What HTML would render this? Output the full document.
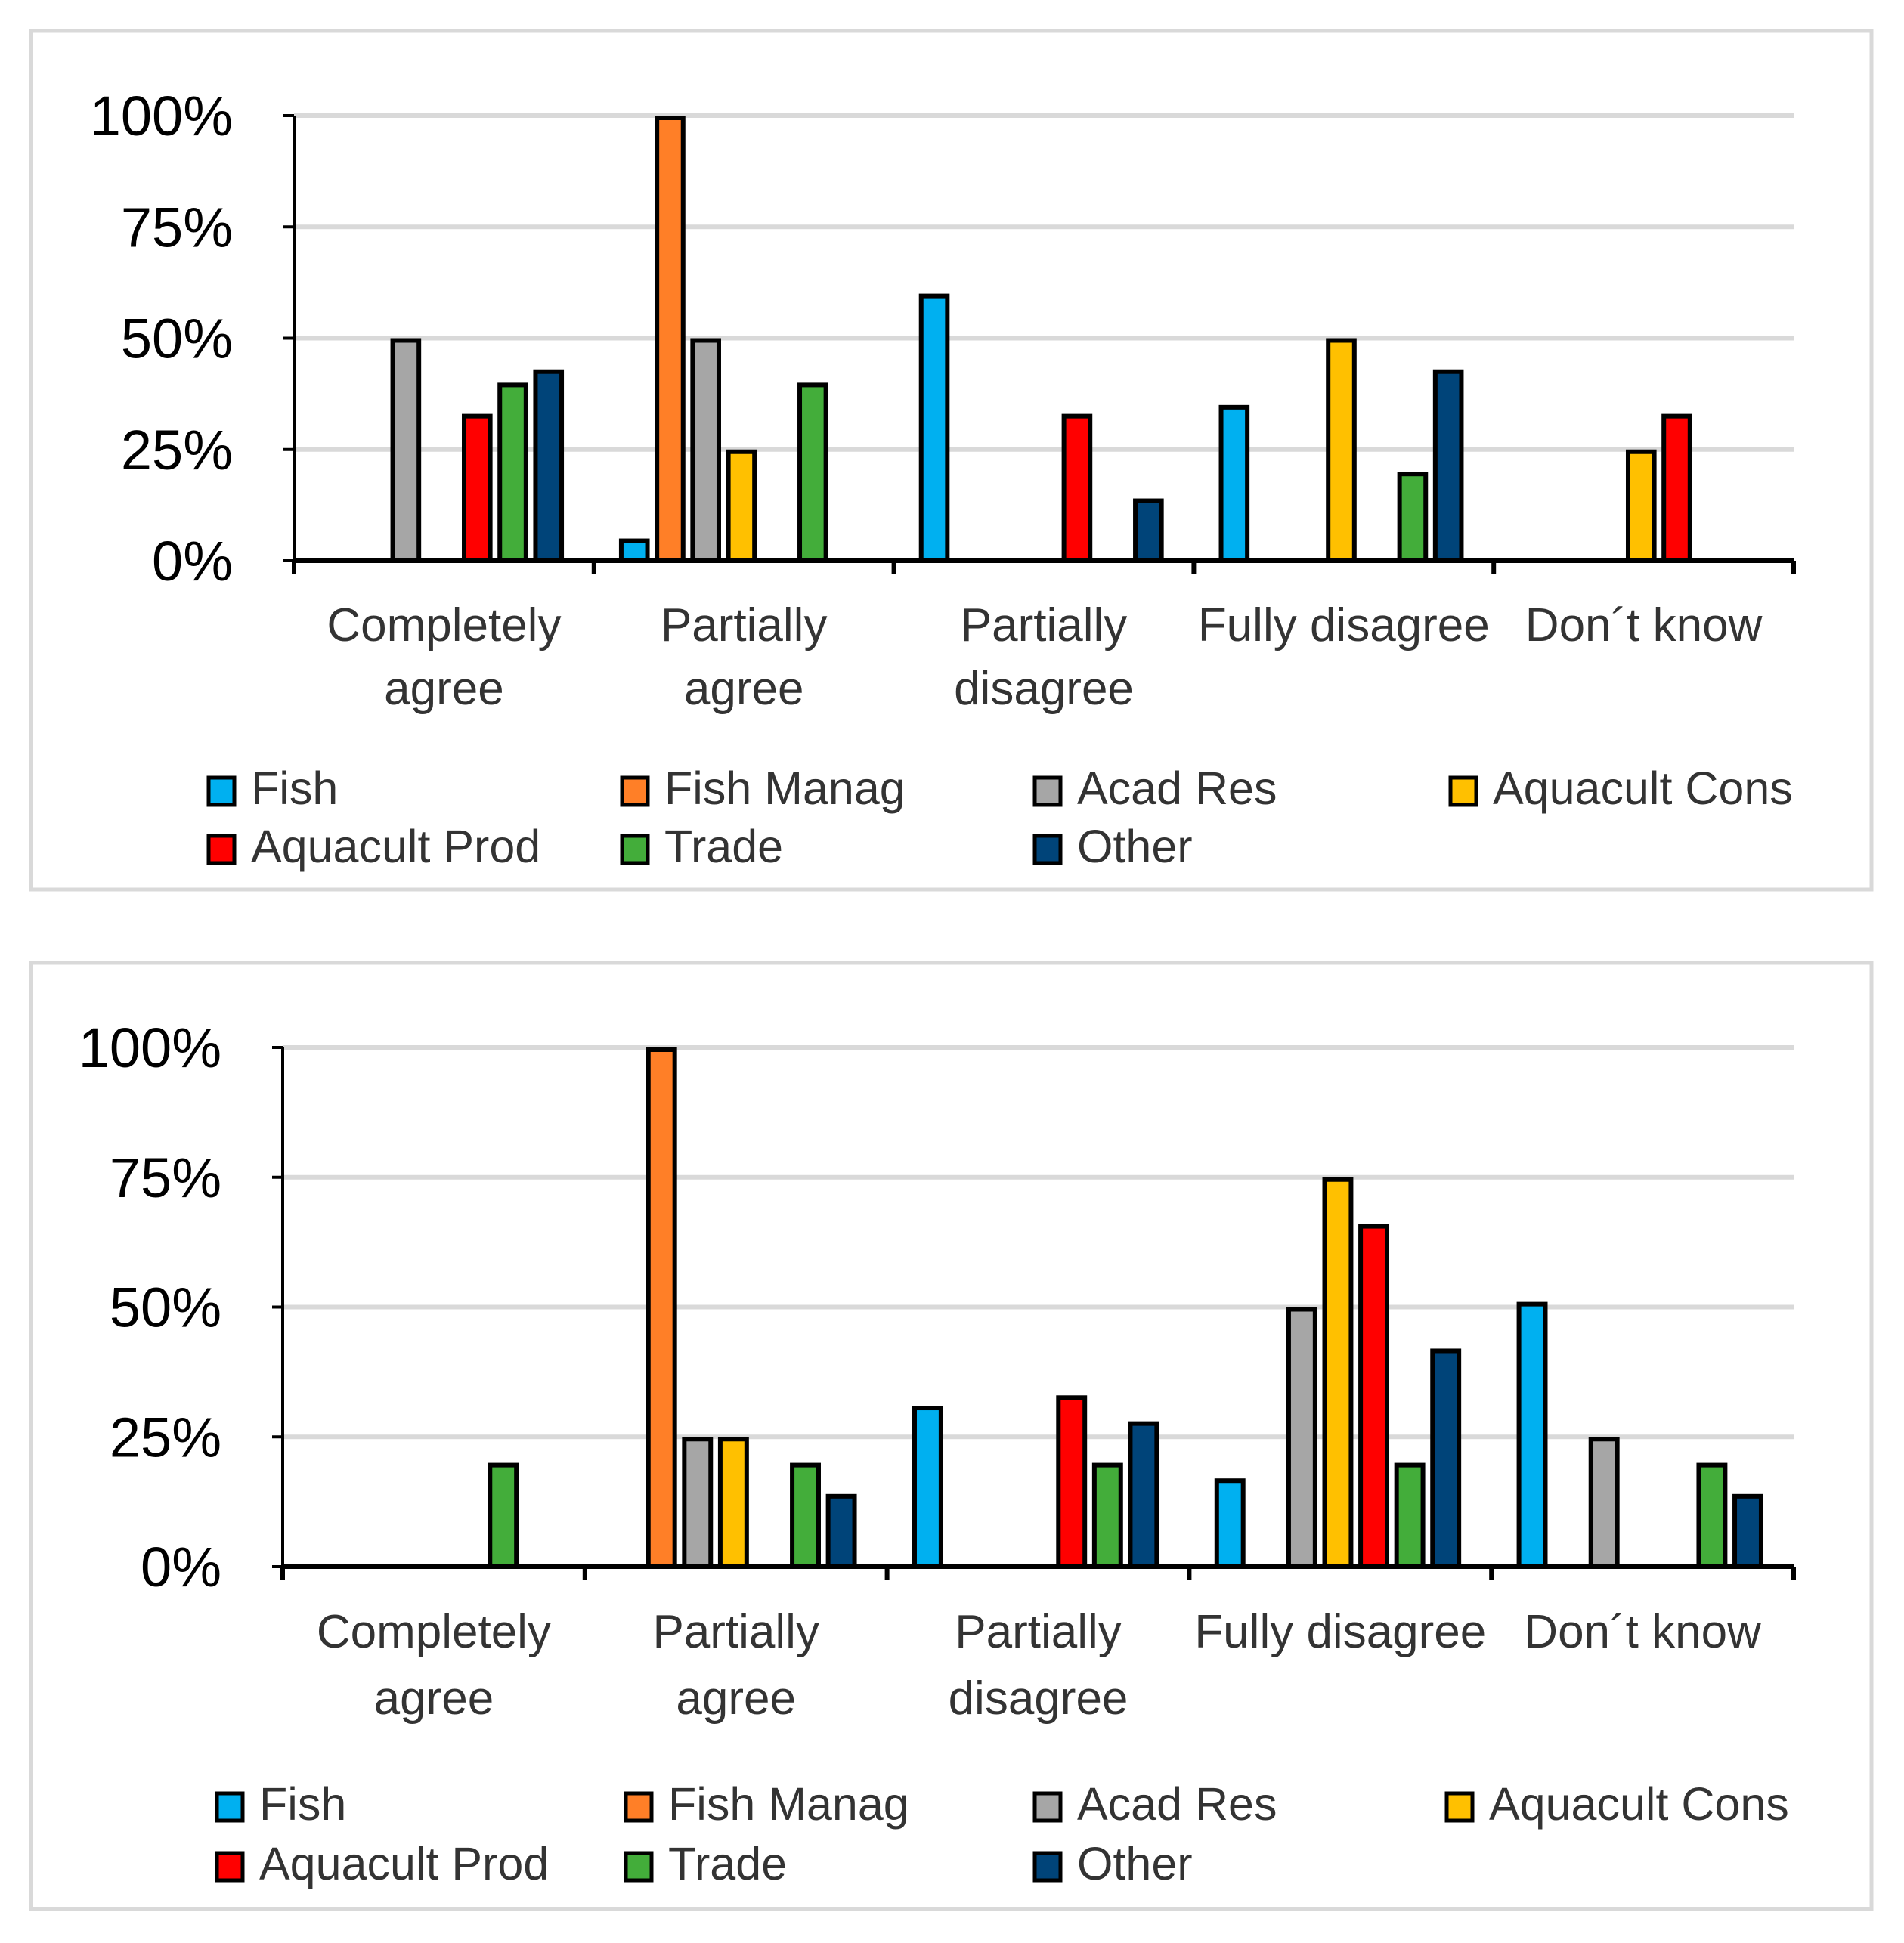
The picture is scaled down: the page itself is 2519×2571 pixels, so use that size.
<!DOCTYPE html>
<html><head><meta charset="utf-8"><style>
html,body{margin:0;padding:0;background:#fff;}
svg{display:block;font-family:"Liberation Sans",sans-serif;}
</style></head><body>
<svg id="c" width="2519" height="2571" viewBox="0 0 2519 2571"></svg>
<script>
const categories=["Completely|agree","Partially|agree","Partially|disagree","Fully disagree","Don´t know"];
const seriesNames=["Fish","Fish Manag","Acad Res","Aquacult Cons","Aquacult Prod","Trade","Other"];
const colors=["#00B0F0","#FF7F27","#A6A6A6","#FFC000","#FF0000","#43AD3A","#004479"];
const yTicks=[0,25,50,75,100];
const tickLabels=["0%","25%","50%","75%","100%"];
const top_fish=[0,5,60,35,0];
const top_manag=[0,100,0,0,0];
const top_acad=[50,50,0,0,0];
const top_cons=[0,25,0,50,25];
const top_prod=[33,0,33,0,33];
const top_trade=[40,40,0,20,0];
const top_other=[43,0,14,43,0];
const bot_fish=[0,0,31,17,51];
const bot_manag=[0,100,0,0,0];
const bot_acad=[0,25,0,50,25];
const bot_cons=[0,25,0,75,0];
const bot_prod=[0,0,33,66,0];
const bot_trade=[20,20,20,20,20];
const bot_other=[0,14,28,42,14];

const NS="http://www.w3.org/2000/svg";
const svg=document.getElementById('c');
function mk(tag,attrs,parent){const e=document.createElementNS(NS,tag);for(const k in attrs)e.setAttribute(k,attrs[k]);(parent||svg).appendChild(e);return e;}

function chart(cfg,data,prefix){
  const g=mk('g',{});
  
  
  const fr=mk('rect',{x:cfg.bx,y:cfg.by,width:cfg.bw,height:cfg.bh,fill:'#fff',stroke:'#d9d9d9','stroke-width':5},g);
  
  
  const yS=v=>cfg.y0-(v/100)*(cfg.y0-cfg.y100);
  const cw=(cfg.xr-cfg.x0)/categories.length;
  const xS=i=>cfg.x0+i*cw;
  yTicks.forEach((t,i)=>{
    if(t>0){const l=mk('line',{x1:cfg.x0,x2:cfg.xr,y1:yS(t),y2:yS(t),stroke:'#d9d9d9','stroke-width':6},g);
    
    }
    const tk=mk('line',{x1:cfg.x0-14,x2:cfg.x0,y1:yS(t),y2:yS(t),stroke:'#000','stroke-width':4},g);
    
    
    const tx=mk('text',{x:cfg.lblX,y:yS(t)+26,'text-anchor':'end','font-size':74,fill:'#000'},g);
    tx.textContent=tickLabels[i];
    
    
  });
  const cols=[data.fish,data.manag,data.acad,data.cons,data.prod,data.trade,data.other];
  const pitch=cw*0.119, bw=pitch*0.86, off=(cw-7*pitch)/2;
  categories.forEach((c,ci)=>{
    cols.forEach((arr,si)=>{
      const v=arr[ci]; if(!v) return;
      const x=xS(ci)+off+si*pitch;
      const r=mk('rect',{x:x+3,y:yS(v)+3,width:bw-6,height:cfg.y0-yS(v)-3,fill:colors[si],stroke:'#000','stroke-width':6},g);
      
      
    });
    const parts=c.split('|');
    parts.forEach((p,pi)=>{
      const t=mk('text',{x:xS(ci)+cw/2,y:cfg.ly+pi*cfg.lh,'text-anchor':'middle','font-size':62,fill:'#333'},g);
      t.textContent=p;
      
      
    });
  });
  const ax=mk('line',{x1:cfg.x0,x2:cfg.x0,y1:cfg.y100,y2:cfg.y0,stroke:'#000','stroke-width':4},g);
  
  
  const xa=mk('line',{x1:cfg.x0,x2:cfg.xr,y1:cfg.y0,y2:cfg.y0,stroke:'#000','stroke-width':6},g);
  
  
  for(let i=0;i<=categories.length;i++){
    const t=mk('line',{x1:xS(i),x2:xS(i),y1:cfg.y0,y2:cfg.y0+18,stroke:'#000','stroke-width':6},g);
    
    
  }
  seriesNames.forEach((n,i)=>{
    const row=Math.floor(i/4),col=i%4;
    const x=cfg.legX[col], y=cfg.legY[row];
    const lg=mk('g',{},g);
    
    
    mk('rect',{x:x,y:y-36,width:34,height:36,fill:colors[i],stroke:'#000','stroke-width':5},lg);
    const t=mk('text',{x:x+56,y:y-1,'font-size':61,fill:'#333'},lg);
    t.textContent=n;
  });
}
chart({bx:41,by:41,bw:2435,bh:1136,x0:389,xr:2373,y0:742,y100:153,lblX:308,ly:848,lh:84,legX:[276,823,1369,1919],legY:[1065,1142]},
 {fish:top_fish,manag:top_manag,acad:top_acad,cons:top_cons,prod:top_prod,trade:top_trade,other:top_other},'top');
chart({bx:41,by:1274,bw:2435,bh:1252,x0:374,xr:2373,y0:2073,y100:1386,lblX:293,ly:2180,lh:88,legX:[287,828,1369,1914],legY:[2409,2488]},
 {fish:bot_fish,manag:bot_manag,acad:bot_acad,cons:bot_cons,prod:bot_prod,trade:bot_trade,other:bot_other},'bottom');
</script>
</body></html>
